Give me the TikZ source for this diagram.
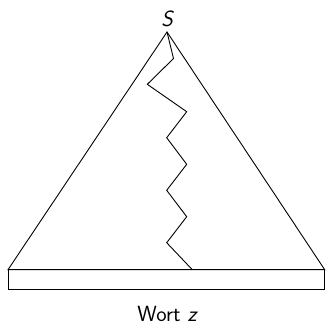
\documentclass[tikz,border=0pt]{standalone}
\begin{document}
\begin{tikzpicture}[x=1pt,y=-1pt,
  ln/.style={line width=0.9pt, line join=miter},
  lbl/.style={font=\fontsize{22}{26}\selectfont\sffamily, inner sep=0pt}]
\useasboundingbox (0,0) rectangle (326,325);
\coordinate (apex) at (167,32);
\coordinate (bl) at (8,269.7);
\coordinate (br) at (324.7,269.7);
\coordinate (rb) at (324.7,289.7);
\coordinate (lb) at (8,289.7);
\coordinate (zend) at (192.3,269.7);
\draw[ln] (apex) -- (br) -- (bl) -- cycle;
\draw[ln] (bl) rectangle (rb);
\draw[ln] (apex) -- (173.5,58.5) -- (147.3,84.3) -- (186.7,111.7) -- (166.7,137.7)
  -- (186.7,164.3) -- (166.7,190.3) -- (186.7,216.7) -- (166.7,242.7) -- (zend);
\node[lbl, anchor=base] (S) at (167,26) {\slshape S};
\node[lbl, anchor=base] (w) at (167,321) {Wort \slshape z};
\end{tikzpicture}
\end{document}
